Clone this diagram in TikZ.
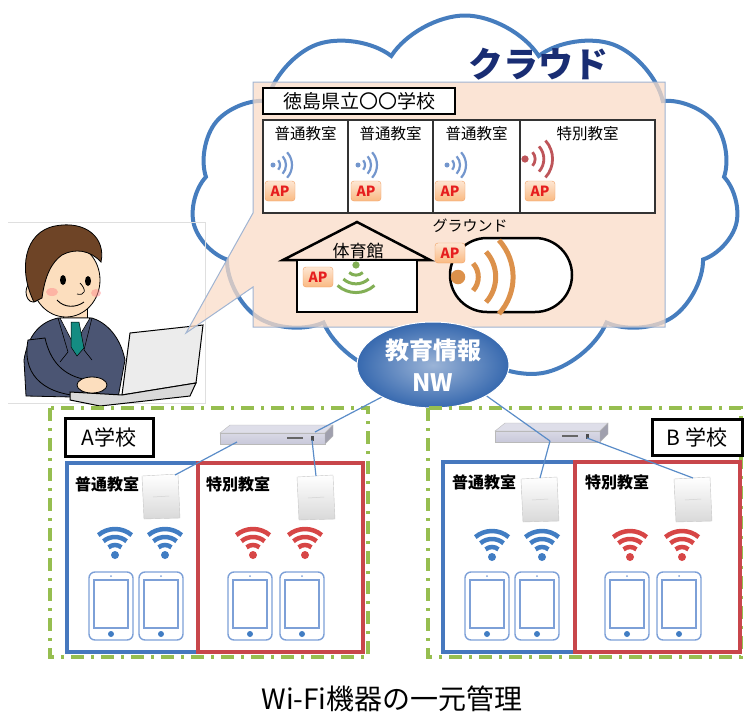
\documentclass[tikz,border=0pt]{standalone}
\usepackage{fontspec}
\setmainfont{Noto Sans CJK JP}
\usetikzlibrary{shapes.geometric, shapes.symbols, positioning, calc}

\definecolor{cloudblue}{RGB}{70,125,190}
\definecolor{cloudnavy}{RGB}{25,45,115}
\definecolor{bubblepink}{RGB}{250,220,200}
\definecolor{bubbleedge}{RGB}{160,180,210}
\definecolor{signalblue}{RGB}{115,150,205}
\definecolor{signalred}{RGB}{190,85,90}
\definecolor{signalgreen}{RGB}{130,175,85}
\definecolor{signalorange}{RGB}{220,145,75}
\definecolor{apfill}{RGB}{250,185,130}
\definecolor{apedge}{RGB}{240,160,100}
\definecolor{apred}{RGB}{230,30,30}
\definecolor{nwblue}{RGB}{55,105,175}
\definecolor{schoolgreen}{RGB}{150,190,80}
\definecolor{roomblue}{RGB}{70,120,190}
\definecolor{roomred}{RGB}{200,70,75}
\definecolor{wifiblue}{RGB}{65,125,195}
\definecolor{wifired}{RGB}{215,70,70}
\definecolor{tabletblue}{RGB}{125,160,215}
\definecolor{linkblue}{RGB}{90,140,200}
\definecolor{routergray}{RGB}{200,200,218}
\definecolor{suit}{RGB}{75,85,115}
\definecolor{skin}{RGB}{252,222,190}
\definecolor{hair}{RGB}{110,68,38}
\definecolor{tie}{RGB}{20,140,130}

\tikzstyle{titlebox} = [rectangle, draw=black, line width=2.5pt, fill=white, inner sep=0pt]
\tikzstyle{roombox} = [rectangle, draw=black!80, line width=1.2pt, fill=white, minimum height=93pt, inner sep=0pt]
\tikzstyle{roomlabel} = [font=\fontsize{15.5}{18}\selectfont, inner sep=0pt]
\tikzstyle{apbadge} = [rectangle, rounded corners=3pt, draw=apedge, top color=apfill!35, bottom color=apfill, text=apred, font=\fontsize{14}{16}\selectfont\bfseries, minimum width=30pt, minimum height=20pt, inner sep=0pt]
\tikzstyle{schoolframe} = [draw=schoolgreen, line width=4pt, dash pattern=on 13pt off 7pt on 3pt off 7pt]
\tikzstyle{classroom} = [rectangle, line width=3.5pt, inner sep=0pt]
\tikzstyle{classlabel} = [font=\fontsize{16}{18}\selectfont\bfseries, inner sep=0pt]
\tikzstyle{link} = [linkblue, line width=1.2pt]

\tikzset{
  % signal waves pointing to the right
  wave/.pic={
    \fill (0,0) circle (2.5);
    \foreach \r in {7,13,19}
      \draw (-42:\r) arc (-42:42:\r);
  },
  % wifi fan pointing up
  wifi/.pic={
    \fill (0,0) circle (4);
    \foreach \r in {10,18,26}
      \draw[line width=4.5pt] (230:\r) arc (230:310:\r);
  },
  tablet/.pic={
    \draw[tabletblue, line width=1.4pt, rounded corners=6pt] (-22,-34) rectangle (22,34);
    \draw[tabletblue, line width=1.2pt] (-17,-26) rectangle (17,22);
    \fill[tabletblue] (0,-30) circle (1);
    \fill[wifiblue] (0,28) circle (3);
  },
  apunit/.pic={
    \draw[gray!45, top color=white, bottom color=gray!30] (-19,-21) -- (17,-23) -- (19,21) -- (-17,22) -- cycle;
    \draw[gray!35, line width=0.5pt] (-8,0) -- (8,-1);
    \coordinate (-top) at (0,-22);
    \coordinate (-corner) at (14,-22);
  },
  router/.pic={
    \draw[gray!55, fill=routergray!60] (-55,-3) -- (-45,-11) -- (58,-11) -- (50,-3) -- cycle;
    \draw[gray!55, top color=routergray!70, bottom color=routergray] (-55,-3) rectangle (50,8);
    \draw[gray!55, fill=routergray!80!black] (50,-3) -- (58,-11) -- (58,0) -- (50,8) -- cycle;
    \draw[black!60, line width=1.2pt] (12,2) -- (28,2);
    \fill[black!70] (36,0) rectangle (39,5);
    \coordinate (-left) at (-38,6);
    \coordinate (-mid) at (0,7);
    \coordinate (-port) at (37,4);
    \coordinate (-right) at (40,-4);
  }
}

\begin{document}
\begin{tikzpicture}[x=1pt, y=-1pt]
\useasboundingbox (0,0) rectangle (744,715);

% cloud
\node (cloud) [cloud, cloud puffs=11, cloud puff arc=115, cloud ignores aspect, draw=cloudblue, line width=4pt, fill=white, minimum width=548pt, minimum height=365pt] at (465,198) {};
\node (cloudname) [text=cloudnavy, font=\fontsize{35}{36}\selectfont\bfseries] at (538,64) {クラウド};

% teacher with laptop
\draw[gray!25, line width=0.8pt] (8,222) -- (205,222) -- (205,403) -- (8,403);
\draw[fill=skin, line width=0.8pt] (63,304) rectangle (87,322);
\draw[fill=suit, line width=0.8pt] (58,318) .. controls (40,322) and (28,335) .. (24,360) -- (26,396) -- (118,398) -- (125,360) .. controls (120,335) and (105,322) .. (92,318) -- cycle;
\draw[fill=white, line width=0.6pt] (60,318) -- (74,345) -- (90,318) -- cycle;
\draw[fill=tie, line width=0.5pt] (71,322) -- (79,322) -- (84,348) -- (77,356) -- (71,347) -- cycle;
\draw[line width=0.6pt] (58,318) -- (68,352) -- (60,362);
\draw[line width=0.6pt] (92,318) -- (84,350) -- (92,360);
\draw[fill=skin, line width=0.8pt] (66,280) ellipse (34 and 37);
\draw[fill=skin, line width=0.8pt] (33,292) ellipse (7 and 10);
\draw[fill=hair, line width=0.8pt] (34,302) .. controls (18,270) and (24,232) .. (55,226) .. controls (86,220) and (106,238) .. (101,262) .. controls (90,250) and (75,248) .. (62,255) .. controls (52,262) and (45,275) .. (42,298) -- cycle;
\fill (63,280) ellipse (3 and 5);
\fill (88,281) ellipse (3 and 5);
\draw[line width=0.7pt] (80,283) .. controls (87,290) and (85,296) .. (77,294);
\draw[line width=0.9pt] (57,300) .. controls (64,308) and (76,308) .. (84,302);
\fill[red!45, opacity=0.5] (52,292) ellipse (6 and 4);
\fill[red!45, opacity=0.5] (96,293) ellipse (5 and 4);
\draw[fill=suit, line width=0.8pt] (28,340) .. controls (22,372) and (40,393) .. (80,396) -- (88,380) .. controls (62,376) and (50,360) .. (45,338) -- cycle;
\draw[fill=gray!15, line width=1pt] (130,333) -- (203,325) -- (196,383) -- (122,395) -- cycle;
\draw[fill=gray!30, line width=1pt] (70,392) -- (122,395) -- (196,383) -- (190,396) -- (100,406) -- (70,400) -- cycle;
\draw[fill=skin, line width=0.8pt] (92,385) ellipse (15 and 8);

% speech bubble with the school inside
\draw[bubbleedge, fill=bubblepink, fill opacity=0.75, line width=1pt] (253,82) -- (665,82) -- (665,327) -- (253,327) -- (253,287) -- (186,333) -- (253,213) -- cycle;
\node (school) [titlebox, minimum width=192pt, minimum height=26pt, font=\fontsize{19}{20}\selectfont] at (359,101) {徳島県立〇〇学校};

\node (room1) [roombox, minimum width=85pt] at (305.5,166.5) {};
\node (room2) [roombox, minimum width=85pt] at (390.5,166.5) {};
\node (room3) [roombox, minimum width=87pt] at (476.5,166.5) {};
\node (room4) [roombox, minimum width=135pt] at (587.5,166.5) {};
\node (name1) [roomlabel, below=7pt of room1.north] {普通教室};
\node (name2) [roomlabel, below=7pt of room2.north] {普通教室};
\node (name3) [roomlabel, below=7pt of room3.north] {普通教室};
\node (name4) [roomlabel, below=7pt of room4.north] {特別教室};
\pic[signalblue, line width=2.2pt] at (273,165) {wave};
\pic[signalblue, line width=2.2pt] at (358,165) {wave};
\pic[signalblue, line width=2.2pt] at (447,165) {wave};
\pic[signalred, line width=2.8pt, scale=1.45] at (525,159) {wave};
\node (ap1) [apbadge] at (280,191) {AP};
\node (ap2) [apbadge] at (366,191) {AP};
\node (ap3) [apbadge] at (450,191) {AP};
\node (ap4) [apbadge] at (540,191) {AP};

% gym
\draw[line width=2.5pt] (283,260) -- (357,222) -- (430,260) -- cycle;
\draw[line width=2.5pt, fill=white] (297,260) rectangle (417,312);
\node (gym) [font=\fontsize{17}{20}\selectfont, inner sep=0pt] at (358,251) {体育館};
\pic[signalgreen, line width=3pt, scale=1.45, rotate=-90] at (356,265) {wave};
\node (apgym) [apbadge] at (318,277) {AP};

% playground
\node (ground) [draw, line width=2.5pt, fill=white, rounded corners=37pt, minimum width=122pt, minimum height=74pt] at (511,275) {};
\node (groundname) [font=\fontsize{15}{18}\selectfont, inner sep=0pt] at (470,226) {グラウンド};
\pic[signalorange, line width=5pt, scale=2.9] at (458,277) {wave};
\node (apground) [apbadge] at (450,253) {AP};

% education network
\node (nw) [ellipse, minimum width=152pt, minimum height=86pt, inner color=nwblue!50!white, outer color=nwblue, draw=white, line width=1pt, text=white, font=\fontsize{24}{32}\selectfont\bfseries, align=center] at (433,365) {教育情報\\NW};

% school A
\draw[schoolframe] (50,408) rectangle (368,657);
\node (schoolA) [titlebox, line width=3pt, minimum width=88pt, minimum height=38pt, font=\fontsize{21}{22}\selectfont] at (109,437) {A学校};
\node (normalA) [classroom, draw=roomblue, minimum width=131pt, minimum height=189pt] at (132.5,557.5) {};
\node (specialA) [classroom, draw=roomred, minimum width=165pt, minimum height=189pt] at (280.5,557.5) {};
\node (normalAname) [classlabel] at (107,484) {普通教室};
\node (specialAname) [classlabel] at (238,484) {特別教室};
\pic (routerA) at (275,436) {router};
\pic (apA1) at (161,497) {apunit};
\pic (apA2) at (316,498) {apunit};
\pic[wifiblue] at (115,555) {wifi};
\pic[wifiblue] at (165,555) {wifi};
\pic[wifired] at (253,555) {wifi};
\pic[wifired] at (305,555) {wifi};
\foreach \x in {111,161,250,302}
  \pic at (\x,606) {tablet};

% school B
\draw[schoolframe] (428,408) rectangle (741,657);
\node (schoolB) [titlebox, line width=3pt, minimum width=90pt, minimum height=36pt, font=\fontsize{21}{22}\selectfont] at (697,437) {B 学校};
\node (normalB) [classroom, draw=roomblue, minimum width=132pt, minimum height=190pt] at (509,557) {};
\node (specialB) [classroom, draw=roomred, minimum width=165pt, minimum height=190pt] at (657.5,557) {};
\node (normalBname) [classlabel] at (484,482) {普通教室};
\node (specialBname) [classlabel] at (617,482) {特別教室};
\pic (routerB) at (550,434) {router};
\pic (apB1) at (540,500) {apunit};
\pic (apB2) at (693,500) {apunit};
\pic[wifiblue] at (492,557) {wifi};
\pic[wifiblue] at (542,557) {wifi};
\pic[wifired] at (630,557) {wifi};
\pic[wifired] at (682,557) {wifi};
\foreach \x in {487,537,627,679}
  \pic at (\x,606) {tablet};

% cables
\draw[link] (nw.212) -- (routerA-right);
\draw[link] (routerA-left) -- (apA1-corner);
\draw[link] (routerA-port) -- (apA2-top);
\draw[link] (nw.-30) -- (routerB-mid);
\draw[link] (routerB-mid) -- (apB1-top);
\draw[link] (routerB-port) -- (apB2-top);

\node (caption) [font=\fontsize{28}{30}\selectfont] at (392,699) {Wi-Fi機器の一元管理};
\end{tikzpicture}
\end{document}
